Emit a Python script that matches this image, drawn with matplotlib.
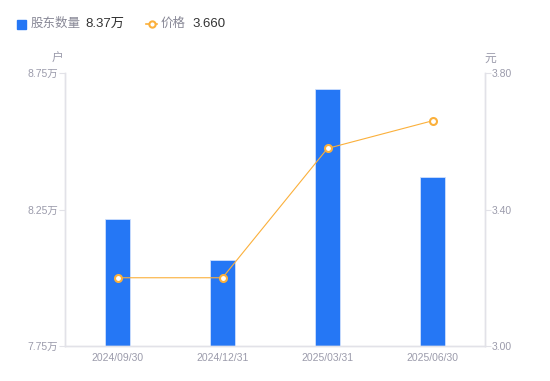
import numpy as np
import matplotlib.pyplot as plt
from matplotlib.lines import Line2D
from matplotlib.patches import Rectangle

plt.rcParams['font.family'] = ['Liberation Sans', 'Noto Sans CJK SC', 'DejaVu Sans']

dates = ['2024/09/30', '2024/12/31', '2025/03/31', '2025/06/30']
holders = [8.217, 8.065, 8.691, 8.37]   # 万户
price = [3.20, 3.20, 3.579, 3.660]      # 元
left_ticks = [7.75, 8.25, 8.75]
right_ticks = [3.00, 3.40, 3.80]

BLUE = '#2577f5'
ORANGE = '#fbb03b'
GRAY = '#9b9bab'
AXIS = '#e2e2e8'

fig = plt.figure(figsize=(5.5, 3.81), dpi=100)
ax = fig.add_axes([65/550, 1-346/381, 420/550, 273/381])
ax2 = ax.twinx()

x = np.arange(len(dates))
ax.bar(x, holders, width=0.24, color=BLUE, edgecolor='#cfe0fd', linewidth=0.6, zorder=2)
ax.set_ylim(7.75, 8.75)
ax.set_xlim(-0.5, 3.5)
ax.set_yticks(left_ticks)
ax.set_yticklabels(['%.2f万' % v for v in left_ticks])
ax.set_xticks(x)
ax.set_xticklabels(dates)

ax2.plot(x, price, color=ORANGE, lw=0.8, marker='o', ms=5, mfc='white',
         mec=ORANGE, mew=1.5, zorder=3)
ax2.set_ylim(3.0, 3.8)
ax2.set_yticks(right_ticks)
ax2.set_yticklabels(['%.2f' % v for v in right_ticks])

for a in (ax, ax2):
    a.spines['top'].set_visible(False)
    for s in ('left', 'right', 'bottom'):
        a.spines[s].set_color(AXIS)
        a.spines[s].set_linewidth(1)
    a.tick_params(axis='y', colors=AXIS, labelcolor=GRAY, labelsize=7.5, length=4, width=0.8, pad=1)
    a.tick_params(axis='x', length=0, labelcolor=GRAY, labelsize=7.5, pad=5)

ax.text(-0.005, 1.03, '户', transform=ax.transAxes, ha='right', va='bottom', fontsize=8.5, color=GRAY)
ax2.text(-0.002 + 1.0, 1.03, '元', transform=ax2.transAxes, ha='left', va='bottom', fontsize=8.5, color=GRAY)

# legend
fig.patches.append(Rectangle((17/550, 1-29/381), 9/550, 9/381, transform=fig.transFigure,
                             color=BLUE, figure=fig))
fig.text(31/550, 1-24/381, '股东数量', ha='left', va='center', fontsize=9, color='#888896')
fig.text(85/550, 1-24/381, '8.37万', ha='left', va='center', fontsize=9.5, color='#333333')
fig.lines.append(Line2D([146/550, 157/550], [1-24/381, 1-24/381], transform=fig.transFigure,
                        color=ORANGE, lw=1.2))
fig.lines.append(Line2D([151.5/550], [1-24/381], transform=fig.transFigure, color=ORANGE,
                        marker='o', ms=4.5, mfc='white', mec=ORANGE, mew=1.5, lw=0))
fig.text(161/550, 1-24/381, '价格', ha='left', va='center', fontsize=9, color='#888896')
fig.text(192/550, 1-24/381, '3.660', ha='left', va='center', fontsize=9.5, color='#333333')

fig.savefig('out.png', dpi=100)
